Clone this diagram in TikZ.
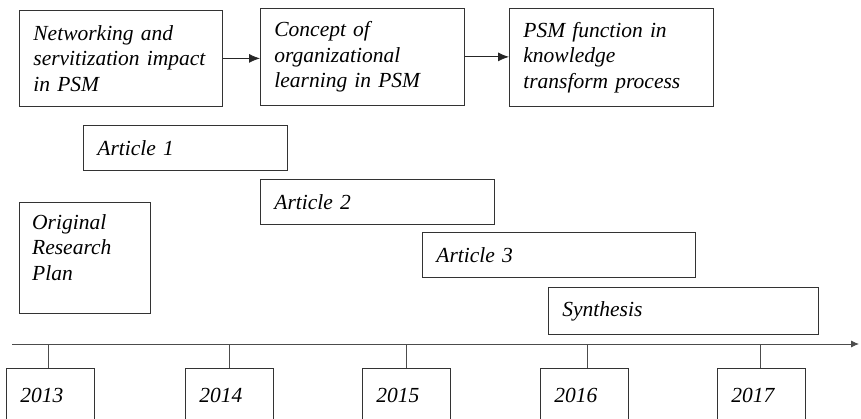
\documentclass[tikz,border=0pt]{standalone}
\usepackage{fontspec}
\setmainfont{Liberation Serif}
\usetikzlibrary{arrows.meta}
\begin{document}
\begin{tikzpicture}[x=1pt,y=-1pt,
  txt/.style={font=\fontsize{21.5}{25.5}\selectfont\itshape},
  box/.style={txt, draw=black!80, line width=0.8pt, anchor=north west, align=left,
    inner xsep=14pt, inner ysep=0pt},
  yearbox/.style={box, minimum width=88pt, text width=60pt, minimum height=54pt},
  link/.style={draw=black!85, line width=0.8pt, -{Latex[length=11pt,width=9pt]}},
  tick/.style={draw=black!70, line width=0.7pt}]
\useasboundingbox (0,0) rectangle (861,419);

% top row: research themes
\node[box, minimum width=203pt, minimum height=96pt, text width=175pt] (b1) at (19,10)
  {Networking and\\servitization impact\\in PSM};
\node[box, minimum width=204pt, minimum height=97pt, text width=176pt] (b2) at (260,8)
  {Concept of\\organizational\\learning in PSM};
\node[box, minimum width=204pt, minimum height=98pt, text width=176pt] (b3) at (509,8)
  {PSM function in\\knowledge\\transform process};
\draw[link] (b1.east) -- (b1.east -| b2.west);
\draw[link] (b2.east) -- (b2.east -| b3.west);

% staggered work packages
\node[box, minimum width=204pt, minimum height=45pt, text width=176pt] (a1) at (83,125) {Article 1};
\node[box, minimum width=234pt, minimum height=45pt, text width=206pt] (a2) at (260,179) {Article 2};
\node[box, minimum width=273pt, minimum height=45pt, text width=245pt] (a3) at (422,232) {Article 3};
\node[box, minimum width=270pt, minimum height=47pt, text width=242pt] (syn) at (548,287) {Synthesis};

% original plan: text sits in the upper part of its frame
\node[box, minimum width=131pt, minimum height=111pt] (orp) at (19,202) {};
\node[txt, anchor=north west, align=left, inner sep=0pt] (orptext) at (32,214)
  {Original\\Research\\Plan};

% time axis with year boxes
\coordinate (t0) at (12,344);
\coordinate (t1) at (859,344);
\draw[draw=black!70, line width=0.8pt, -{Latex[length=8pt,width=7pt]}] (t0) -- (t1);
\node[yearbox] (y13) at (6,368) {2013};
\node[yearbox] (y14) at (185,368) {2014};
\node[yearbox] (y15) at (362,368) {2015};
\node[yearbox] (y16) at (540,368) {2016};
\node[yearbox] (y17) at (717,368) {2017};
\foreach \y/\dx in {y13/-2, y14/0, y15/0, y16/3, y17/-1}
  \draw[tick] ([xshift=\dx pt]\y.north) -- ([xshift=\dx pt]\y.north |- t0);
\end{tikzpicture}
\end{document}
